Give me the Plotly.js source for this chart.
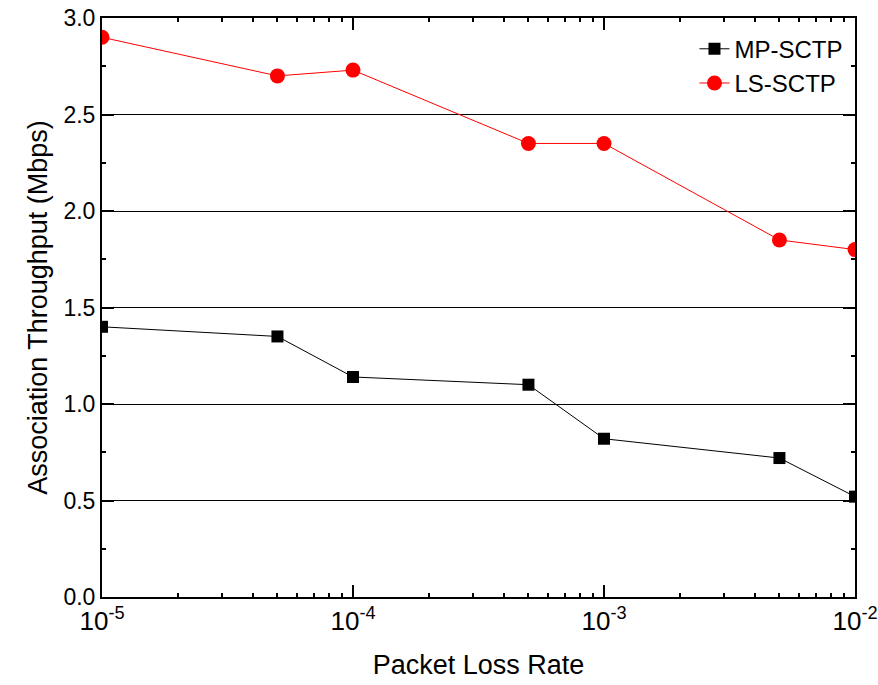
<!DOCTYPE html>
<html>
<head>
<meta charset="utf-8">
<script src="https://cdn.plot.ly/plotly-3.0.1.min.js"></script>
<style>html,body{margin:0;padding:0;background:#fff;}#chart{width:878px;height:685px;}</style>
</head>
<body>
<div id="chart"></div>
<script>
const lossRates = [1e-5, 5e-5, 1e-4, 5e-4, 1e-3, 5e-3, 1e-2];
const mpSctp = [1.40, 1.35, 1.14, 1.10, 0.82, 0.72, 0.52];
const lsSctp = [2.90, 2.70, 2.73, 2.35, 2.35, 1.85, 1.80];
const seriesNames = ['MP-SCTP', 'LS-SCTP'];
const xTickVals = [1e-5, 1e-4, 1e-3, 1e-2];
const xTickText = ['10<sup>-5</sup>', '10<sup>-4</sup>', '10<sup>-3</sup>', '10<sup>-2</sup>'];

const traces = [
  {x: lossRates, y: mpSctp, name: seriesNames[0], type: 'scatter', mode: 'lines+markers',
   line: {color: '#000', width: 1}, marker: {symbol: 'square', size: 12, color: '#000'}},
  {x: lossRates, y: lsSctp, name: seriesNames[1], type: 'scatter', mode: 'lines+markers',
   line: {color: '#ff0000', width: 1}, marker: {symbol: 'circle', size: 15, color: '#ff0000'}}
];

const font = 'Arial, "Liberation Sans", sans-serif';
const layout = {
  width: 878, height: 685,
  margin: {l: 102, r: 23, t: 18, b: 88},
  paper_bgcolor: '#fff', plot_bgcolor: '#fff',
  showlegend: true,
  legend: {x: 0.99, y: 0.985, xanchor: 'right', yanchor: 'top', bgcolor: 'rgba(0,0,0,0)',
           font: {family: font, size: 24, color: '#000'}, tracegroupgap: 0},
  xaxis: {
    type: 'log', range: [-5, -2], tickmode: 'array', tickvals: xTickVals, ticktext: xTickText,
    ticklabeloverflow: 'allow',
    showline: true, linecolor: '#000', linewidth: 2, mirror: 'ticks',
    ticks: 'inside', ticklen: 12, tickwidth: 2, tickcolor: '#000',
    minor: {ticks: 'inside', ticklen: 4, tickwidth: 2, tickcolor: '#000', dtick: 'D1', showgrid: false},
    showgrid: false, zeroline: false,
    tickfont: {family: font, size: 26, color: '#000'},
    title: {text: 'Packet Loss Rate', font: {family: font, size: 27, color: '#000'}, standoff: 20}
  },
  yaxis: {
    range: [0, 3.0], dtick: 0.5, tickformat: '.1f',
    showline: true, linecolor: '#000', linewidth: 2, mirror: 'ticks',
    ticks: 'inside', ticklen: 12, tickwidth: 2, tickcolor: '#000',
    minor: {ticks: 'inside', ticklen: 4, tickwidth: 2, tickcolor: '#000', dtick: 0.25, showgrid: false},
    showgrid: true, gridcolor: '#000', gridwidth: 1, zeroline: false,
    tickfont: {family: font, size: 23, color: '#000'},
    title: {text: 'Association Throughput (Mbps)', font: {family: font, size: 27, color: '#000'}, standoff: 8}
  }
};

Plotly.newPlot('chart', traces, layout, {displayModeBar: false, staticPlot: true});
</script>
</body>
</html>
